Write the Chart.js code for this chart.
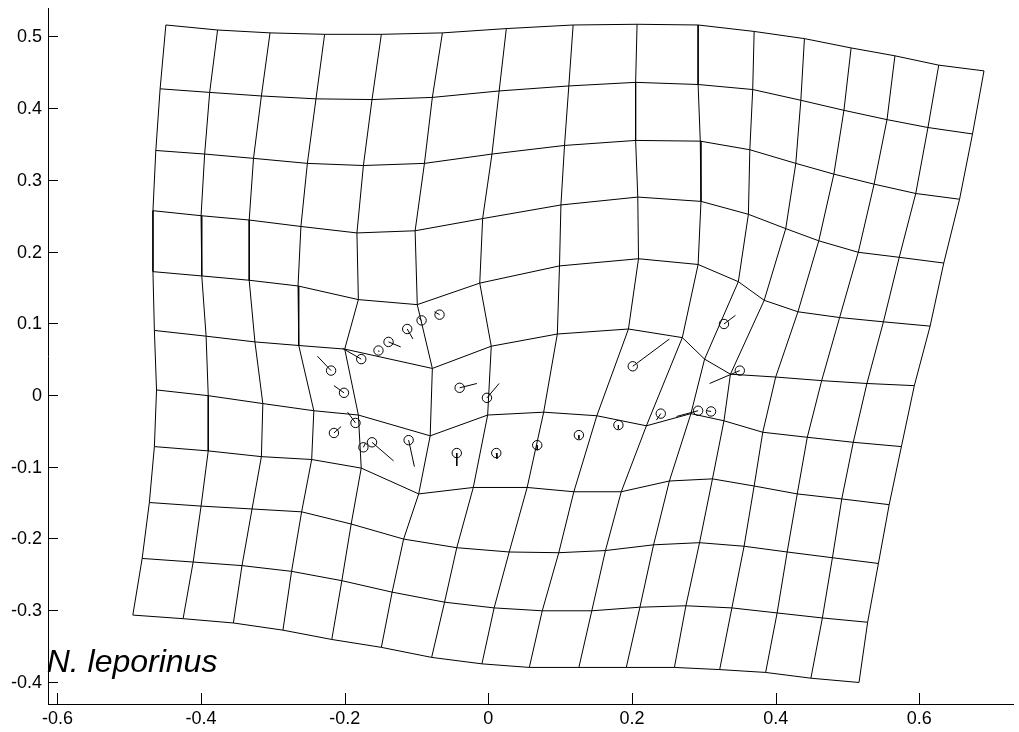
<!DOCTYPE html>
<html>
<head>
<meta charset="utf-8">
<script src="https://cdn.jsdelivr.net/npm/chart.js@4.4.1/dist/chart.umd.min.js"></script>
<style>
  html, body { margin: 0; padding: 0; background: #fff; }
  #wrap { width: 1019px; height: 732px; position: relative; }
</style>
</head>
<body>
<div id="wrap"><canvas id="grid-chart"></canvas></div>
<script>
// deformed grid nodes, one array per grid row (top to bottom), 16 nodes each
const gridX = [
  [-0.449, -0.377, -0.304, -0.228, -0.149, -0.064, 0.025, 0.118, 0.207, 0.292, 0.370, 0.440, 0.505, 0.566, 0.627, 0.690],
  [-0.457, -0.388, -0.316, -0.240, -0.162, -0.078, 0.015, 0.112, 0.205, 0.292, 0.368, 0.435, 0.495, 0.555, 0.612, 0.674],
  [-0.463, -0.395, -0.327, -0.252, -0.174, -0.089, 0.005, 0.106, 0.205, 0.295, 0.364, 0.428, 0.481, 0.537, 0.595, 0.656],
  [-0.467, -0.400, -0.333, -0.261, -0.183, -0.102, -0.008, 0.101, 0.208, 0.296, 0.362, 0.414, 0.460, 0.515, 0.572, 0.634],
  [-0.467, -0.399, -0.333, -0.265, -0.181, -0.099, -0.012, 0.099, 0.209, 0.292, 0.348, 0.384, 0.431, 0.489, 0.550, 0.615],
  [-0.465, -0.393, -0.325, -0.264, -0.200, -0.078, 0.004, 0.096, 0.195, 0.270, 0.301, 0.337, 0.400, 0.464, 0.527, 0.593],
  [-0.462, -0.390, -0.314, -0.243, -0.181, -0.081, -0.001, 0.077, 0.151, 0.220, 0.282, 0.328, 0.382, 0.444, 0.508, 0.575],
  [-0.465, -0.390, -0.316, -0.246, -0.177, -0.097, -0.021, 0.054, 0.119, 0.185, 0.252, 0.312, 0.370, 0.430, 0.492, 0.558],
  [-0.472, -0.400, -0.329, -0.260, -0.191, -0.118, -0.044, 0.029, 0.098, 0.163, 0.230, 0.294, 0.356, 0.416, 0.479, 0.543],
  [-0.482, -0.411, -0.343, -0.274, -0.204, -0.134, -0.061, 0.008, 0.075, 0.144, 0.211, 0.275, 0.339, 0.402, 0.465, 0.528],
  [-0.495, -0.425, -0.355, -0.286, -0.218, -0.149, -0.079, -0.009, 0.057, 0.126, 0.192, 0.259, 0.322, 0.386, 0.449, 0.516]
];
const gridY = [
  [0.516, 0.509, 0.505, 0.503, 0.503, 0.505, 0.511, 0.516, 0.517, 0.516, 0.507, 0.497, 0.484, 0.473, 0.460, 0.452],
  [0.427, 0.422, 0.417, 0.413, 0.412, 0.415, 0.424, 0.431, 0.436, 0.433, 0.426, 0.411, 0.397, 0.384, 0.373, 0.364],
  [0.341, 0.336, 0.330, 0.323, 0.320, 0.323, 0.336, 0.348, 0.355, 0.354, 0.342, 0.323, 0.308, 0.294, 0.281, 0.273],
  [0.257, 0.250, 0.244, 0.235, 0.226, 0.229, 0.246, 0.265, 0.276, 0.270, 0.252, 0.232, 0.215, 0.199, 0.192, 0.184],
  [0.172, 0.166, 0.160, 0.152, 0.133, 0.126, 0.156, 0.180, 0.190, 0.182, 0.158, 0.132, 0.116, 0.108, 0.102, 0.096],
  [0.090, 0.082, 0.074, 0.069, 0.064, 0.037, 0.068, 0.085, 0.092, 0.080, 0.050, 0.029, 0.025, 0.020, 0.016, 0.013],
  [0.007, -0.001, -0.012, -0.022, -0.028, -0.057, -0.028, -0.024, -0.029, -0.043, -0.026, -0.036, -0.052, -0.059, -0.066, -0.072],
  [-0.072, -0.078, -0.086, -0.090, -0.102, -0.138, -0.129, -0.129, -0.135, -0.135, -0.120, -0.117, -0.127, -0.138, -0.145, -0.153],
  [-0.150, -0.155, -0.159, -0.163, -0.180, -0.201, -0.213, -0.219, -0.220, -0.217, -0.209, -0.206, -0.211, -0.219, -0.227, -0.235],
  [-0.228, -0.233, -0.238, -0.246, -0.259, -0.275, -0.289, -0.297, -0.301, -0.301, -0.296, -0.294, -0.297, -0.304, -0.311, -0.317],
  [-0.307, -0.312, -0.318, -0.328, -0.341, -0.352, -0.366, -0.375, -0.380, -0.380, -0.380, -0.380, -0.383, -0.387, -0.395, -0.401]
];

// landmarks (circles) and the other end of each displacement line
const lmX  = [-0.068, -0.093, -0.113, -0.139, -0.153, -0.177, -0.219, -0.201, -0.185, -0.215, -0.174, -0.162, -0.111, -0.040, -0.002, -0.044, 0.011, 0.068, 0.126, 0.181, 0.240, 0.292, 0.310, 0.201, 0.328, 0.350];
const lmY  = [0.112, 0.104, 0.092, 0.074, 0.062, 0.050, 0.034, 0.003, -0.039, -0.053, -0.073, -0.066, -0.063, 0.010, -0.004, -0.081, -0.081, -0.070, -0.056, -0.042, -0.026, -0.022, -0.023, 0.040, 0.099, 0.034];
const vecX = [-0.075, -0.097, -0.105, -0.122, -0.152, -0.203, -0.238, -0.215, -0.196, -0.205, -0.171, -0.132, -0.103, -0.016, 0.015, -0.044, 0.012, 0.068, 0.126, 0.181, 0.234, 0.262, 0.304, 0.252, 0.344, 0.308];
const vecY = [0.116, 0.108, 0.078, 0.067, 0.060, 0.065, 0.054, 0.013, -0.024, -0.044, -0.067, -0.092, -0.100, 0.016, 0.016, -0.099, -0.089, -0.077, -0.061, -0.047, -0.035, -0.030, -0.022, 0.078, 0.111, 0.016];

const xTickVals = [-0.6, -0.4, -0.2, 0, 0.2, 0.4, 0.6];
const xTickLabels = ['-0.6', '-0.4', '-0.2', '0', '0.2', '0.4', '0.6'];
const yTickVals = [-0.4, -0.3, -0.2, -0.1, 0, 0.1, 0.2, 0.3, 0.4, 0.5];
const yTickLabels = ['-0.4', '-0.3', '-0.2', '-0.1', '0', '0.1', '0.2', '0.3', '0.4', '0.5'];

const specimen = 'N. leporinus';
const specimenPos = { x: -0.615, y: -0.387 };

const LINE = '#000';
const FONT = "'Liberation Sans', Arial, Helvetica, sans-serif";

let lineSet = (pts) => ({
  data: pts,
  showLine: true,
  pointRadius: 0,
  borderColor: LINE,
  borderWidth: 1,
  tension: 0,
  fill: false
});

let datasets = [];

// grid rows
gridX.forEach((row, r) => {
  datasets.push(lineSet(row.map((x, c) => ({ x: x, y: gridY[r][c] }))));
});
// grid columns
gridX[0].forEach((_, c) => {
  datasets.push(lineSet(gridX.map((row, r) => ({ x: row[c], y: gridY[r][c] }))));
});
// displacement lines
lmX.forEach((x, i) => {
  datasets.push(lineSet([{ x: x, y: lmY[i] }, { x: vecX[i], y: vecY[i] }]));
});
// landmark circles
datasets.push({
  data: lmX.map((x, i) => ({ x: x, y: lmY[i] })),
  showLine: false,
  pointRadius: 4.7,
  pointStyle: 'circle',
  pointBorderColor: LINE,
  pointBackgroundColor: 'rgba(0,0,0,0)',
  pointBorderWidth: 1
});

// inward ticks, tick labels and specimen label
const decorations = {
  id: 'decorations',
  afterDraw(chart) {
    let ctx = chart.ctx;
    let xs = chart.scales.x, ys = chart.scales.y;
    let area = chart.chartArea;
    ctx.save();
    ctx.strokeStyle = LINE;
    ctx.lineWidth = 1;
    ctx.beginPath();
    xTickVals.forEach(v => {
      let px = Math.round(xs.getPixelForValue(v)) + 0.5;
      ctx.moveTo(px, area.bottom);
      ctx.lineTo(px, area.bottom - 11);
    });
    yTickVals.forEach(v => {
      let py = Math.round(ys.getPixelForValue(v)) + 0.5;
      ctx.moveTo(area.left, py);
      ctx.lineTo(area.left + 10, py);
    });
    ctx.stroke();

    ctx.fillStyle = '#000';
    ctx.font = '18px ' + FONT;
    ctx.textBaseline = 'middle';
    ctx.textAlign = 'center';
    xTickVals.forEach((v, i) => {
      ctx.fillText(xTickLabels[i], xs.getPixelForValue(v), area.bottom + 15);
    });
    ctx.textAlign = 'right';
    yTickVals.forEach((v, i) => {
      ctx.fillText(yTickLabels[i], area.left - 6, ys.getPixelForValue(v) + 1);
    });

    ctx.font = 'italic 32px ' + FONT;
    ctx.textAlign = 'left';
    ctx.textBaseline = 'alphabetic';
    ctx.fillText(specimen, xs.getPixelForValue(specimenPos.x), ys.getPixelForValue(specimenPos.y));
    ctx.restore();
  }
};

new Chart(document.getElementById('grid-chart'), {
  type: 'scatter',
  data: { datasets: datasets },
  plugins: [decorations],
  options: {
    responsive: true,
    maintainAspectRatio: false,
    animation: false,
    events: [],
    layout: { padding: { top: 8, right: 0, bottom: 0, left: 0 } },
    plugins: {
      legend: { display: false },
      tooltip: { enabled: false }
    },
    scales: {
      x: {
        type: 'linear',
        min: -0.6131,
        max: 0.7308,
        grid: { display: false, drawTicks: false },
        border: { display: true, color: LINE, width: 1 },
        afterBuildTicks: (scale) => { scale.ticks = xTickVals.map(v => ({ value: v })); },
        afterFit: (scale) => {
          scale.height = 28;
          scale.paddingLeft = 0; scale.paddingRight = 0;
        },
        ticks: { display: false }
      },
      y: {
        type: 'linear',
        min: -0.431,
        max: 0.5397,
        grid: { display: false, drawTicks: false },
        border: { display: true, color: LINE, width: 1 },
        afterBuildTicks: (scale) => { scale.ticks = yTickVals.map(v => ({ value: v })); },
        afterFit: (scale) => {
          scale.width = 48;
          scale.paddingTop = 0; scale.paddingBottom = 0;
        },
        ticks: { display: false }
      }
    }
  }
});
</script>
</body>
</html>
